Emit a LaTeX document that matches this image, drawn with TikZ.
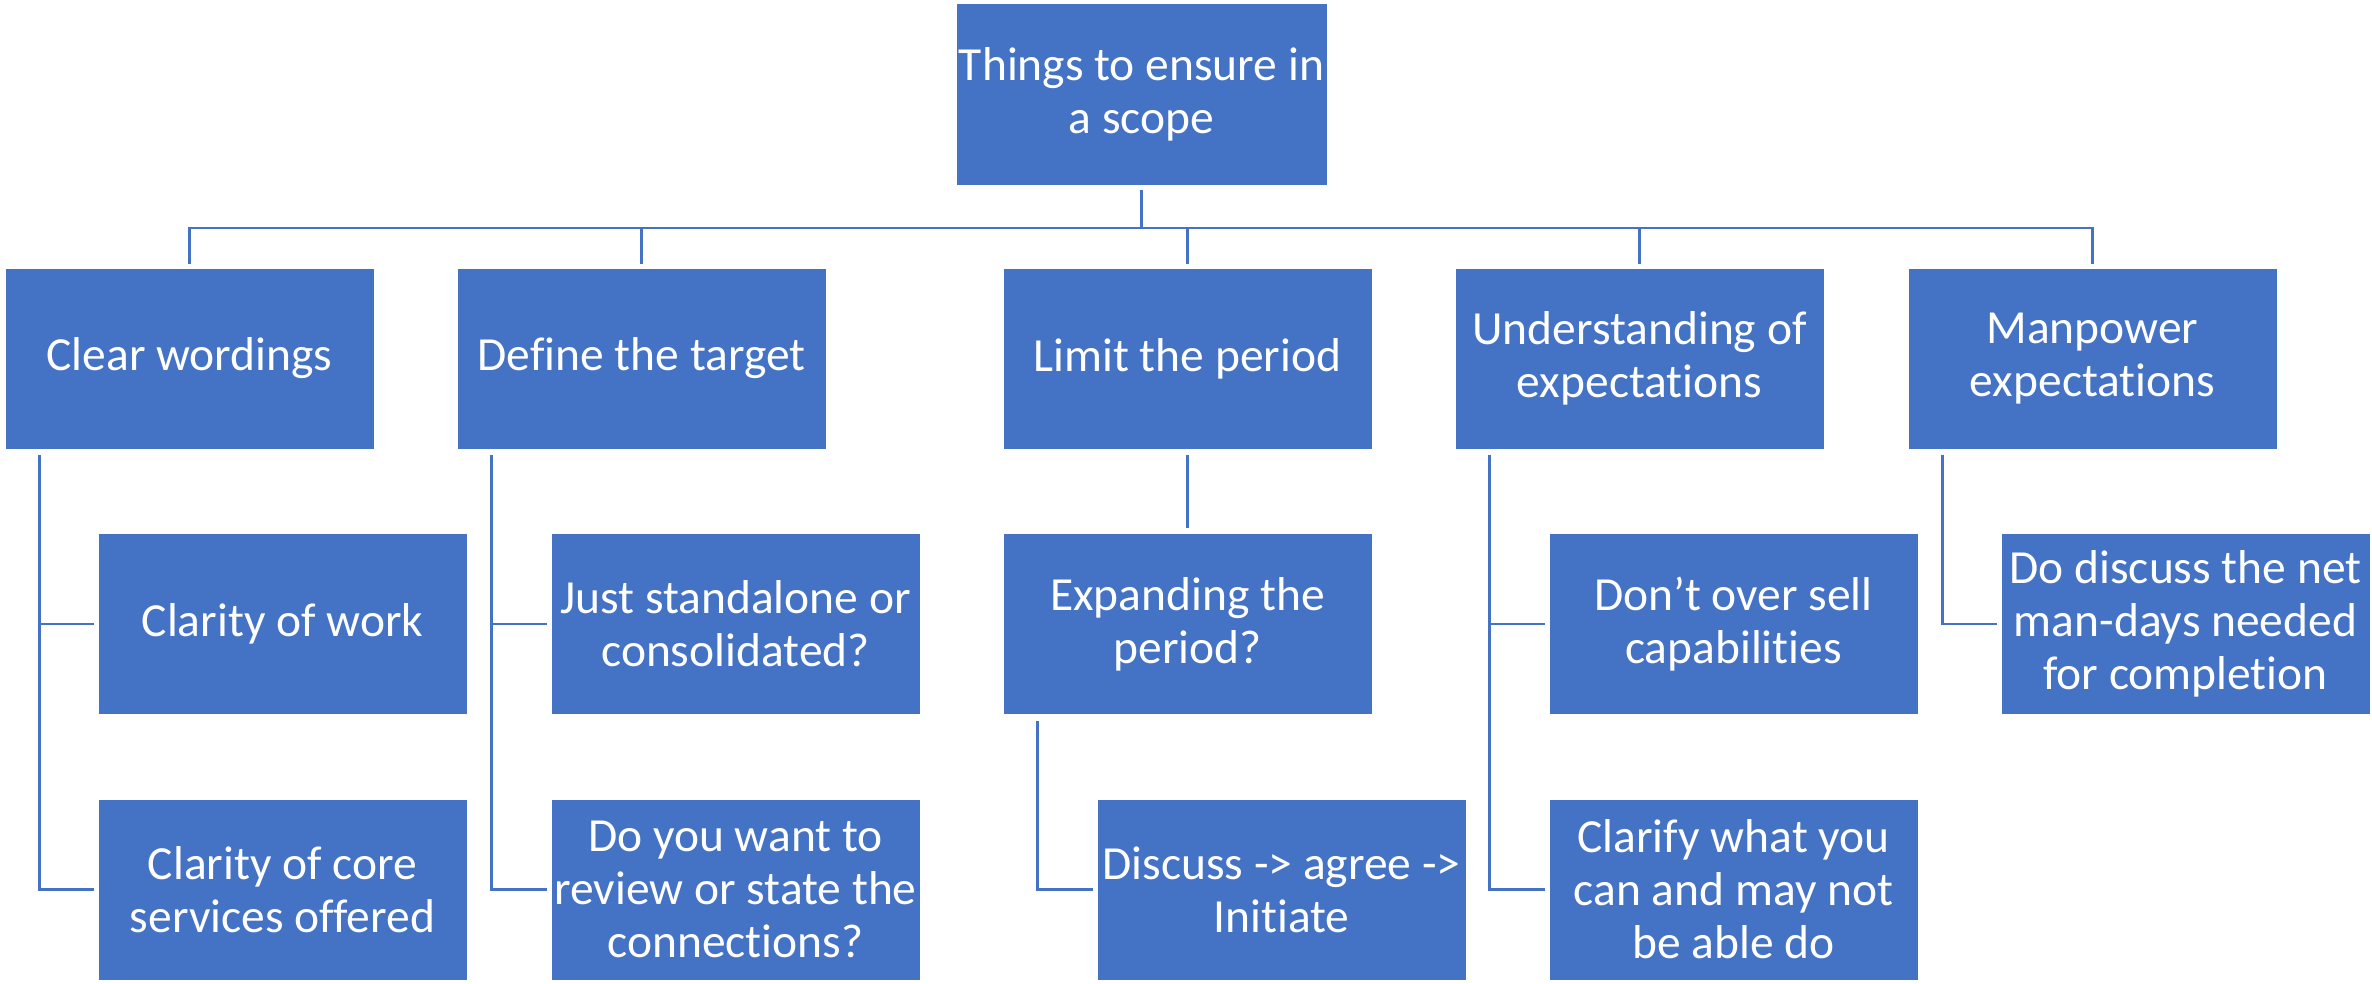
\documentclass[tikz,border=0pt]{standalone}
\usepackage{fontspec}
\setmainfont[Ligatures=NoCommon]{Carlito}
\definecolor{boxblue}{HTML}{4472C4}
\definecolor{linkblue}{HTML}{4472C4}
\begin{document}
\begin{tikzpicture}[x=1pt,y=-1pt,
  topicbox/.style={draw=white, line width=0.8pt, fill=boxblue, text=white,
    minimum width=369pt, minimum height=181pt, inner sep=0pt, align=center,
    font=\fontsize{47.5}{53}\selectfont},
  link/.style={draw=linkblue, line width=2.5pt}]
\useasboundingbox (0,0) rectangle (2372,984);
\fill[white] (0,0) rectangle (2372,984);

% root
\node[topicbox, minimum width=371pt, minimum height=182pt] (root) at (1141.5,94) {Things to ensure in\\a scope};

% first level
\node[topicbox] (clear)  at (189.5,358.5)  {Clear wordings};
\node[topicbox] (target) at (641.5,358.5)  {Define the target};
\node[topicbox] (limit)  at (1187.5,358.5) {Limit the period};
\node[topicbox] (under)  at (1639.5,358.5) {Understanding of\\expectations};
\node[topicbox] (man)    at (2092.5,358.5) {Manpower\\expectations};

% second level
\node[topicbox] (work)   at (282.5,624)  {Clarity of work};
\node[topicbox] (core)   at (282.5,889.5) {Clarity of core\\services offered};
\node[topicbox] (stand)  at (735.5,624)  {Just standalone or\\consolidated?};
\node[topicbox] (review) at (735.5,889.5) {Do you want to\\review or state the\\connections?};
\node[topicbox] (expand) at (1187.5,624) {Expanding the\\period?};
\node[topicbox] (disc)   at (1281.5,889.5) {Discuss -> agree ->\\Initiate};
\node[topicbox] (oversell) at (1733.5,624) {Don’t over sell\\capabilities};
\node[topicbox] (clarify)  at (1733.5,889.5) {Clarify what you\\can and may not\\be able do};
\node[topicbox] (net)    at (2185.5,624) {Do discuss the net\\man-days needed\\for completion};

% bus between the root and the first level
\coordinate (bus) at (0,228);
\foreach \n in {clear,target,limit,under,man}
  \draw[link] ([yshift=4pt]\n.north) -- (\n.north |- bus) -| ([yshift=-5pt]root.south);

% side branches
\foreach \p/\c in {clear/work,clear/core,target/stand,target/review,under/oversell,under/clarify,man/net,expand/disc}
  \draw[link] ([xshift=35pt,yshift=-6pt]\p.south west) |- ([xshift=-4pt]\c.west);

% straight link below "Limit the period"
\draw[link] ([yshift=-6pt]limit.south) -- ([yshift=5pt]expand.north);
\end{tikzpicture}
\end{document}
